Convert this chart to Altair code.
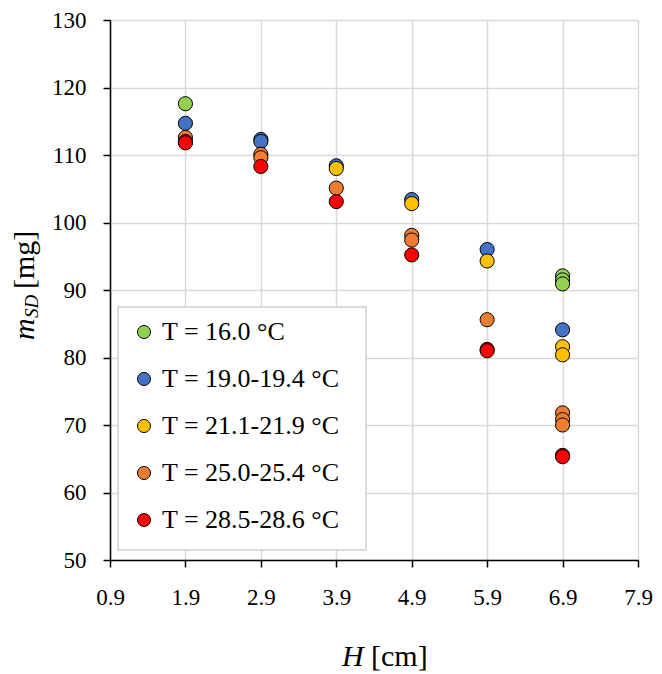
import altair as alt
import pandas as pd

series_names = ["T = 16.0 °C", "T = 19.0-19.4 °C", "T = 21.1-21.9 °C",
                "T = 25.0-25.4 °C", "T = 28.5-28.6 °C"]
series_colors = ["#92D050", "#4472C4", "#FFC000", "#ED7D31", "#FF0000"]

h_16 = [1.9, 6.9, 6.9, 6.9]
m_16 = [117.6, 92.1, 91.5, 90.9]

h_19 = [1.9, 2.9, 2.9, 3.9, 4.9, 5.9, 6.9]
m_19 = [114.7, 112.3, 112.0, 108.4, 103.4, 96.0, 84.1]

h_21 = [3.9, 4.9, 5.9, 6.9, 6.9]
m_21 = [108.0, 102.8, 94.3, 81.6, 80.4]

h_25 = [1.9, 2.9, 2.9, 3.9, 4.9, 4.9, 5.9, 6.9, 6.9, 6.9]
m_25 = [112.6, 110.1, 109.6, 105.1, 98.1, 97.4, 85.6, 71.8, 70.8, 70.0]

h_28 = [1.9, 1.9, 2.9, 3.9, 4.9, 5.9, 5.9, 6.9, 6.9]
m_28 = [112.0, 111.8, 108.3, 103.1, 95.2, 81.2, 81.0, 65.5, 65.3]

x_ticks = [0.9, 1.9, 2.9, 3.9, 4.9, 5.9, 6.9, 7.9]
y_ticks = [50, 60, 70, 80, 90, 100, 110, 120, 130]

rows = []
for name, hs, ms in zip(series_names,
                        [h_16, h_19, h_21, h_25, h_28],
                        [m_16, m_19, m_21, m_25, m_28]):
    for h, m in zip(hs, ms):
        rows.append({"H": h, "m": m, "series": name})
df = pd.DataFrame(rows)
df["ord"] = range(len(df))

FONT = "Liberation Serif"

points = alt.Chart(df).mark_circle(
    size=200, opacity=1, stroke="black", strokeWidth=1
).encode(
    x=alt.X("H:Q", scale=alt.Scale(domain=[0.9, 7.9], nice=False, zero=False),
            axis=alt.Axis(values=x_ticks, format=".1f", title=None, labelFlush=False)),
    y=alt.Y("m:Q", scale=alt.Scale(domain=[50, 130], nice=False, zero=False),
            axis=alt.Axis(values=y_ticks, format="d", title=None, labelFlush=False)),
    fill=alt.Fill("series:N",
                  scale=alt.Scale(domain=series_names, range=series_colors),
                  legend=alt.Legend(
                      title=None, orient="none", legendX=21, legendY=299,
                      padding=0,
                      symbolType="circle", symbolSize=170,
                      symbolStrokeColor="black", symbolStrokeWidth=1,
                      labelFont=FONT, labelFontSize=26, labelColor="black",
                      labelOffset=5, rowPadding=21, labelLimit=400)),
    order=alt.Order("ord:Q"),
)

one = pd.DataFrame({"k": [0]})

legend_box = alt.Chart(one).mark_rect(
    fill="white", stroke="#D0D0D0", strokeWidth=1.5
).encode(x=alt.value(8), x2=alt.value(256), y=alt.value(287), y2=alt.value(530))

def txt(s, x, y, size, italic=False, angle=0):
    return alt.Chart(one).mark_text(
        text=s, font=FONT, fontSize=size, fontStyle="italic" if italic else "normal",
        color="black", align="left", baseline="alphabetic", angle=angle
    ).encode(x=alt.value(x), y=alt.value(y))

ytitle_m = txt("m", -76, 320, 30, True, 270)
ytitle_sd = txt("SD", -72, 298, 19, True, 270)
ytitle_u = txt("[mg]", -76, 269, 30, False, 270)

xtitle_h = txt("H", 232, 646, 30, True)
xtitle_u = txt("[cm]", 261, 646, 30, False)

chart = alt.layer(legend_box, points, ytitle_m, ytitle_sd, ytitle_u, xtitle_h, xtitle_u).properties(
    width=528, height=540,
    autosize=alt.AutoSizeParams(type="none"),
    padding={"left": 102, "top": 12, "right": 16, "bottom": 112},
).configure_view(stroke=None).configure_axis(
    labelFont=FONT, labelFontSize=23, labelColor="black",
    domainColor="black", domainWidth=1.5,
    tickColor="black", tickWidth=1.5, tickSize=7,
    gridColor="#D9D9D9", gridWidth=1.5,
).configure_axisX(labelPadding=19).configure_axisY(labelPadding=17)

chart.save("out.html", embed_options={"renderer": "svg", "actions": False})
